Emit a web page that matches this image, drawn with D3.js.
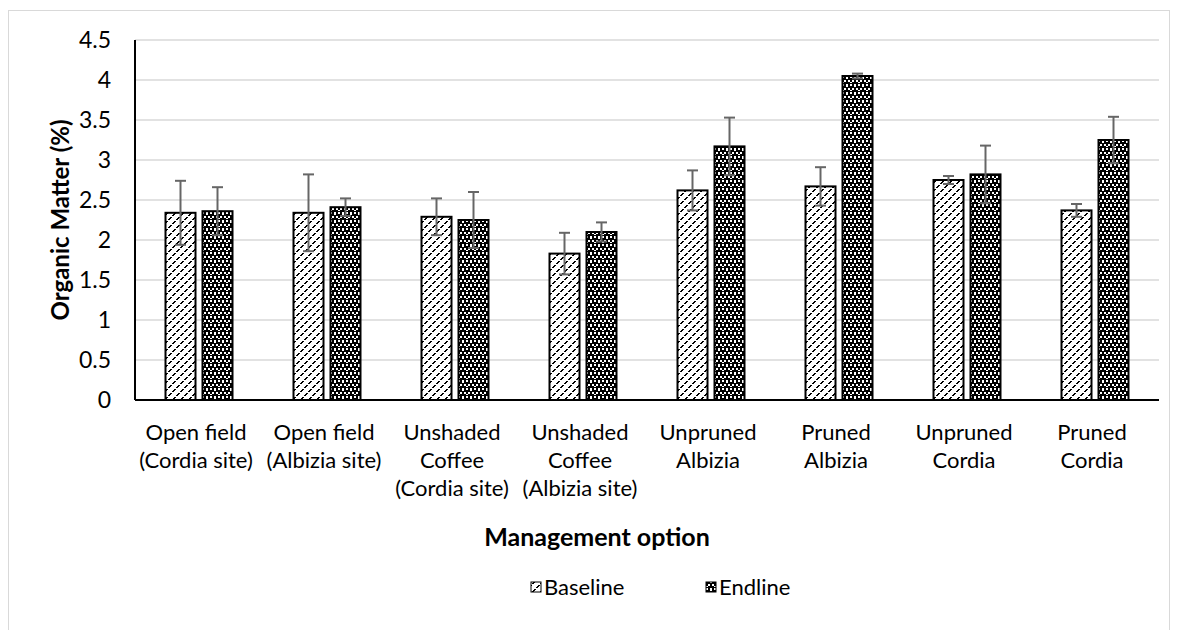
<!DOCTYPE html>
<html><head><meta charset="utf-8">
<script src="https://cdn.jsdelivr.net/npm/d3@7"></script>
<style>body{margin:0;background:#fff}svg{display:block}text{font-family:Lato,"Liberation Sans",sans-serif;fill:#000}</style>
</head><body><svg id="c" width="1179" height="630"></svg>
<script>
const categories = [
  ["Open field","(Cordia site)"],
  ["Open field","(Albizia site)"],
  ["Unshaded","Coffee","(Cordia site)"],
  ["Unshaded","Coffee","(Albizia site)"],
  ["Unpruned","Albizia"],
  ["Pruned","Albizia"],
  ["Unpruned","Cordia"],
  ["Pruned","Cordia"]
];
const seriesNames = ["Baseline","Endline"];
const baseline    = [2.34, 2.34, 2.29, 1.83, 2.62, 2.67, 2.75, 2.37];
const baselineErr = [0.40, 0.48, 0.23, 0.26, 0.25, 0.24, 0.05, 0.08];
const endline     = [2.36, 2.41, 2.25, 2.10, 3.17, 4.05, 2.82, 3.25];
const endlineErr  = [0.30, 0.11, 0.35, 0.12, 0.36, 0.03, 0.36, 0.29];
const yTicks = [0,0.5,1,1.5,2,2.5,3,3.5,4,4.5];
const yTickLabels = ["0","0.5","1","1.5","2","2.5","3","3.5","4","4.5"];
const yTitle = "Organic Matter (%)";
const xTitle = "Management option";

const svg = d3.select("#c");
const L = 135, R = 1159, T = 40, B = 400;

// chart border
svg.append("rect").attr("x",8.5).attr("y",10.5).attr("width",1161).attr("height",640)
  .attr("fill","none").attr("stroke","#d9d9d9").attr("stroke-width",1);

// patterns
const defs = svg.append("defs");
const p1 = defs.append("pattern").attr("id","pBase").attr("patternUnits","userSpaceOnUse")
  .attr("width",8).attr("height",8);
p1.append("rect").attr("width",8).attr("height",8).attr("fill","#fff");
[[0,3],[1,2],[2,1],[4,7],[5,6],[6,5]].forEach(([x,y])=>
  p1.append("rect").attr("x",x).attr("y",y).attr("width",2).attr("height",1).attr("fill","#000").attr("shape-rendering","crispEdges"));
const p2 = defs.append("pattern").attr("id","pEnd").attr("patternUnits","userSpaceOnUse")
  .attr("width",8).attr("height",8);
p2.append("rect").attr("width",8).attr("height",8).attr("fill","#000");
[[0,0,2,2],[4,0,2,2],[2,4,2,2],[6,4,2,2],[2,2,2,1],[6,6,2,1]].forEach(([x,y,w,h])=>
  p2.append("rect").attr("x",x).attr("y",y).attr("width",w).attr("height",h).attr("fill","#fff").attr("shape-rendering","crispEdges"));

const x0 = d3.scaleBand().domain(d3.range(categories.length)).range([L,R]).paddingInner(0).paddingOuter(0);
const y = d3.scaleLinear().domain([0,4.5]).range([B,T]);
const barW = 30, gap = 7;
const offs = [-(barW+gap)/2, (barW+gap)/2];

// gridlines
svg.append("g").selectAll("line").data(yTicks.filter(d=>d>0)).join("line")
  .attr("x1",L).attr("x2",R).attr("y1",d=>y(d)).attr("y2",d=>y(d))
  .attr("stroke","#d9d9d9").attr("stroke-width",1.5);

// y tick labels
svg.append("g").selectAll("text").data(yTicks).join("text")
  .attr("x",111).attr("y",d=>y(d)).attr("dy","0.36em").attr("text-anchor","end")
  .attr("font-size",23).text((d,i)=>yTickLabels[i]);

// bars
const series = [
  {vals:baseline, err:baselineErr, fill:"url(#pBase)"},
  {vals:endline, err:endlineErr, fill:"url(#pEnd)"}
];
series.forEach((s,si)=>{
  const g = svg.append("g");
  g.selectAll("rect").data(s.vals).join("rect")
    .attr("x",(d,i)=>x0(i)+x0.bandwidth()/2+offs[si]-barW/2)
    .attr("y",d=>y(d)).attr("width",barW).attr("height",d=>y(0)-y(d))
    .attr("fill",s.fill).attr("stroke","#000").attr("stroke-width",2);
});
// error bars
series.forEach((s,si)=>{
  const g = svg.append("g").attr("stroke","#666").attr("stroke-width",2);
  s.vals.forEach((v,i)=>{
    const cx = x0(i)+x0.bandwidth()/2+offs[si];
    const e = s.err[i];
    g.append("line").attr("x1",cx).attr("x2",cx).attr("y1",y(v+e)).attr("y2",y(v-e));
    g.append("line").attr("x1",cx-5.5).attr("x2",cx+5.5).attr("y1",y(v+e)).attr("y2",y(v+e));
    g.append("line").attr("x1",cx-5.5).attr("x2",cx+5.5).attr("y1",y(v-e)).attr("y2",y(v-e));
  });
});

// axes lines
svg.append("line").attr("x1",L).attr("x2",L).attr("y1",T).attr("y2",B).attr("stroke","#000").attr("stroke-width",2);
svg.append("line").attr("x1",L).attr("x2",R).attr("y1",B).attr("y2",B).attr("stroke","#000").attr("stroke-width",2);

// category labels
categories.forEach((lines,i)=>{
  const cx = x0(i)+x0.bandwidth()/2 - 3;
  const t = svg.append("text").attr("text-anchor","middle").attr("font-size",22);
  lines.forEach((ln,j)=>t.append("tspan").attr("x",cx).attr("y",440+j*28).text(ln));
});

// titles
svg.append("text").attr("transform","translate(69,220) rotate(-90)").attr("text-anchor","middle")
  .attr("font-size",24).attr("font-weight","bold").text(yTitle);
svg.append("text").attr("x",597).attr("y",546).attr("text-anchor","middle")
  .attr("font-size",25).attr("font-weight","bold").text(xTitle);

// legend
const leg = [{n:seriesNames[0],f:"url(#pBase)",x:531},{n:seriesNames[1],f:"url(#pEnd)",x:706}];
leg.forEach(l=>{
  svg.append("rect").attr("x",l.x).attr("y",582).attr("width",10).attr("height",10)
    .attr("fill",l.f).attr("stroke","#000").attr("stroke-width",1);
  svg.append("text").attr("x",l.x+13).attr("y",595).attr("font-size",22).text(l.n);
});
</script></body></html>
